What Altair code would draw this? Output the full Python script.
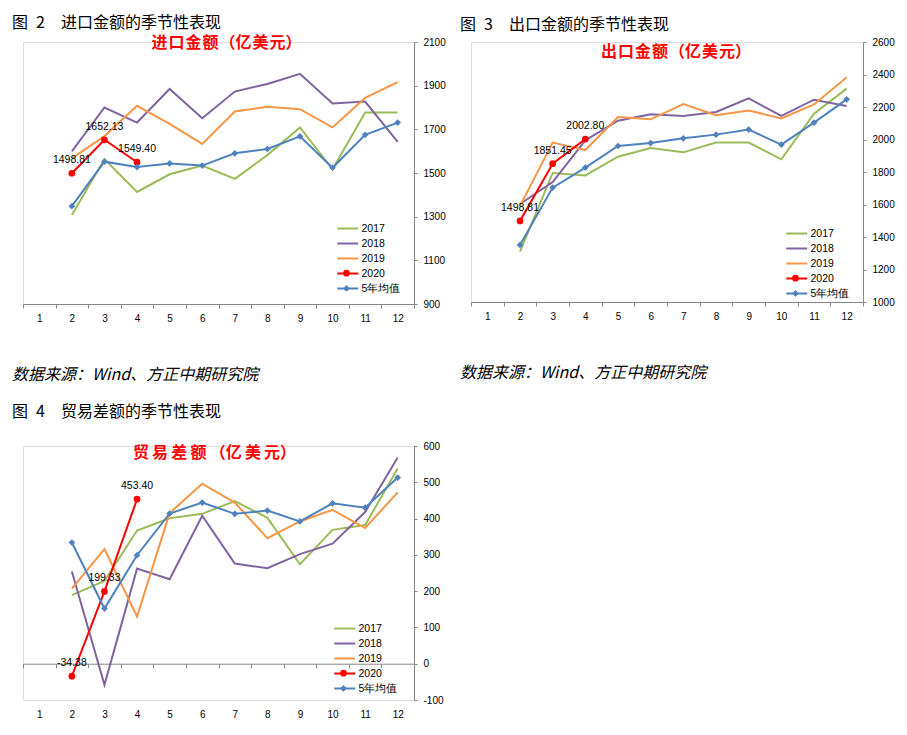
import altair as alt
import pandas as pd

months = list(range(1, 13))
m_full = list(range(2, 13))
m_2020 = [2, 3, 4]
series_names = ["2017", "2018", "2019", "2020", "5年均值"]
series_colors = ["#9BBB59", "#8064A2", "#F79646", "#FF0000", "#4F81BD"]
series_widths = [2, 2, 2, 3, 2.5]
marker_series = ["2020", "5年均值"]
marker_colors = ["#FF0000", "#4F81BD"]
marker_shapes = ["circle", "diamond"]

imp_2017 = [1308, 1564, 1413, 1494, 1534, 1473, 1582, 1709, 1517, 1777, 1777]
imp_2018 = [1599, 1800, 1731, 1885, 1751, 1873, 1908, 1954, 1818, 1827, 1642]
imp_2019 = [1567, 1669, 1808, 1725, 1633, 1782, 1803, 1792, 1709, 1844, 1916]
imp_2020 = [1498.81, 1652.13, 1549.40]
imp_avg = [1348, 1552, 1527, 1544, 1534, 1590, 1610, 1668, 1524, 1675, 1731]

exp_2017 = [1310, 1794, 1779, 1894, 1948, 1921, 1981, 1981, 1878, 2159, 2313]
exp_2018 = [1603, 1738, 1995, 2116, 2155, 2145, 2169, 2253, 2145, 2245, 2206]
exp_2019 = [1591, 1981, 1935, 2138, 2124, 2218, 2149, 2179, 2130, 2216, 2383]
exp_2020 = [1498.81, 1851.45, 2002.80]
exp_avg = [1351, 1704, 1827, 1960, 1978, 2007, 2030, 2061, 1968, 2104, 2247]

bal_2017 = [189, 228, 367, 401, 413, 448, 402, 274, 369, 382, 538]
bal_2018 = [254, -58, 262, 233, 408, 276, 263, 302, 331, 418, 568]
bal_2019 = [207, 316, 130, 415, 496, 444, 346, 392, 424, 374, 472]
bal_2020 = [-34.38, 199.33, 453.40]
bal_avg = [334, 152, 299, 414, 444, 413, 422, 392, 442, 430, 513]

imp_ticks = [900, 1100, 1300, 1500, 1700, 1900, 2100]
exp_ticks = [1000, 1200, 1400, 1600, 1800, 2000, 2200, 2400, 2600]
bal_ticks = [-100, 0, 100, 200, 300, 400, 500, 600]

headers = ["图\u20022\u2003进口金额的季节性表现", "图\u20023\u2003出口金额的季节性表现", "图\u20024\u2003贸易差额的季节性表现"]
red_titles = ["进\u200a口\u200a金\u200a额\u200a（亿\u200a美\u200a元）",
              "出\u200a口\u200a金\u200a额\u200a（亿\u200a美\u200a元）",
              "贸\u2009易\u2009差\u2009额\u2009（亿\u2009美\u2009元）"]
source_text = "数据来源：Wind、方正中期研究院"

CJK = "Noto Sans CJK SC"
LAB = "Liberation Sans"
GRAY = "#868686"
IND = dict(color="independent", strokeWidth="independent", fill="independent", shape="independent")
INDL = dict(color="independent", fill="independent", shape="independent")


def make_df(s17, s18, s19, s20, savg):
    rows = []
    for name, vals in zip(series_names, [s17, s18, s19, s20, savg]):
        ms = m_2020 if name == "2020" else m_full
        for m, v in zip(ms, vals):
            rows.append({"month": m, "value": v, "series": name, "label": f"{v:.2f}"})
    return pd.DataFrame(rows)


def panel(df, ydom, yticks, w, h, red_title, tdx, toffset, lx, ly, mdy, zero_axis=False):
    if zero_axis:
        zfrac = (0 - ydom[0]) / (ydom[1] - ydom[0])
        xoff = -zfrac * h
        lpad = zfrac * h + 5
    else:
        xoff = 0
        lpad = 5
    x = alt.X("month:O", bandPosition=0.5,
              scale=alt.Scale(type="band", domain=months, paddingInner=0, paddingOuter=0),
              axis=alt.Axis(title=None, labelAngle=0, tickBand="extent", grid=False,
                            domainColor=GRAY, tickColor=GRAY, tickSize=4, offset=xoff,
                            labelPadding=lpad, labelFont=LAB, labelFontSize=10, labelColor="#000000"))
    y = alt.Y("value:Q", scale=alt.Scale(domain=ydom, nice=False, zero=False),
              axis=alt.Axis(title=None, orient="right", values=yticks, grid=False,
                            labelExpr="'' + datum.value",
                            domainColor=GRAY, tickColor=GRAY, tickSize=3, labelPadding=6,
                            labelFont=LAB, labelFontSize=10, labelColor="#000000"))
    leg = alt.Legend(title=None, orient="none", legendX=lx + 5.25, legendY=ly, symbolType="M-2,0H2",
                     symbolSize=110, symbolStrokeWidth=2.5, labelFont=LAB, labelFontSize=10.5,
                     labelColor="#000000", rowPadding=3, labelOffset=7.25, padding=0)
    mleg = alt.Legend(title=None, orient="none", legendX=lx + 7, legendY=ly + 47.65 + mdy,
                      symbolSize=45, labelExpr="''", labelFontSize=1, rowPadding=8.3,
                      labelOffset=0, padding=0, symbolStrokeWidth=0)
    lines = alt.Chart(df).mark_line().encode(
        x=x, y=y,
        color=alt.Color("series:N", scale=alt.Scale(domain=series_names, range=series_colors),
                        legend=leg),
        strokeWidth=alt.StrokeWidth("series:N", scale=alt.Scale(domain=series_names, range=series_widths),
                                    legend=None),
    )
    pts = alt.Chart(df).transform_filter(
        alt.FieldOneOfPredicate(field="series", oneOf=marker_series)
    ).mark_point(filled=True, opacity=1, size=45).encode(
        x=x, y=y,
        fill=alt.Fill("series:N", scale=alt.Scale(domain=marker_series, range=marker_colors),
                      legend=mleg),
        shape=alt.Shape("series:N", scale=alt.Scale(domain=marker_series, range=marker_shapes),
                        legend=mleg),
    )
    labels = alt.Chart(df).transform_filter(
        alt.FieldEqualPredicate(field="series", equal="2020")
    ).mark_text(dy=-13, font=LAB, fontSize=10.5, color="#000000").encode(
        x=x, y=y, text=alt.Text("label:N"))
    return alt.layer(lines, pts, labels).properties(
        width=w, height=h,
        title=alt.Title(red_title, color="#FF0000", font=CJK, fontSize=16, fontWeight="bold",
                        anchor="middle", frame="group", offset=toffset, dx=tdx))


def wrap(chart, header, with_source, hoff):
    c = alt.vconcat(chart, title=alt.Title(header, anchor="start", font=CJK, fontSize=16,
                                           fontWeight="normal", color="#000000", dx=-10, offset=hoff)
                    ).resolve_scale(**IND).resolve_legend(**INDL)
    if with_source:
        c = alt.vconcat(c, title=alt.Title(source_text, orient="bottom", anchor="start", font=CJK,
                                           fontSize=16, fontStyle="italic", fontWeight="normal",
                                           color="#000000", offset=43)
                        ).resolve_scale(**IND).resolve_legend(**INDL)
    return c


df_imp = make_df(imp_2017, imp_2018, imp_2019, imp_2020, imp_avg)
df_exp = make_df(exp_2017, exp_2018, exp_2019, exp_2020, exp_avg)
df_bal = make_df(bal_2017, bal_2018, bal_2019, bal_2020, bal_avg)
p1 = panel(df_imp, [900, 2100], imp_ticks, 391, 262, red_titles[0], 8, -14, 313, 180, 0)
p2 = panel(df_exp, [1000, 2600], exp_ticks, 392, 260, red_titles[1], 9, -23, 314, 185, 0)
p3 = panel(df_bal, [-100, 600], bal_ticks, 391, 254, red_titles[2], -4, -20, 310, 176, 0, zero_axis=True)
top = alt.hconcat(wrap(p1, headers[0], True, 4), wrap(p2, headers[1], True, 4),
                  spacing=14).resolve_scale(**IND).resolve_legend(**INDL)
chart = alt.vconcat(top, wrap(p3, headers[2], False, 21), spacing=20).resolve_scale(**IND).resolve_legend(
    **INDL).properties(
    padding={"left": 4, "top": 6, "right": 0, "bottom": 0}
).configure_view(stroke=None).configure(background="#FFFFFF")

chart.save("out.html", embed_options={"renderer": "svg", "actions": False})
